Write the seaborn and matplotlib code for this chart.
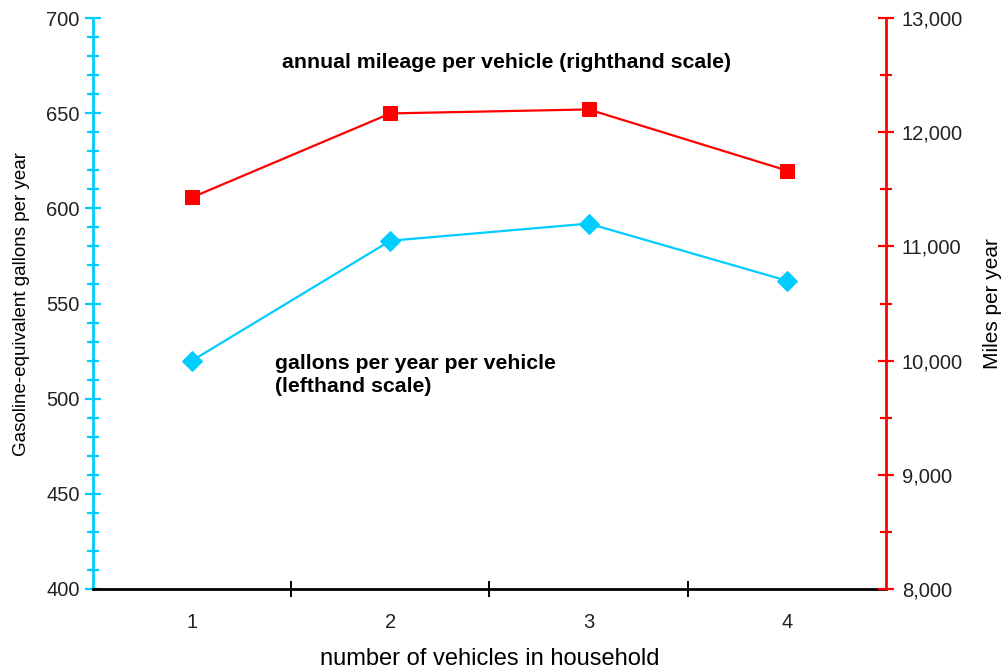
import matplotlib
matplotlib.use("Agg")
import matplotlib.pyplot as plt
import seaborn as sns
import pandas as pd
from matplotlib.ticker import MultipleLocator, FuncFormatter

vehicles = [1, 2, 3, 4]
gallons = [520, 583, 592, 562]
miles = [11430, 12165, 12200, 11665]

sns.set_style("white")
plt.rcParams['font.family'] = ['Liberation Sans', 'DejaVu Sans']
plt.rcParams['text.color'] = 'black'
plt.rcParams['axes.labelcolor'] = 'black'
plt.rcParams['xtick.color'] = 'black'
plt.rcParams['ytick.color'] = 'black'

df = pd.DataFrame({"vehicles": vehicles, "gallons": gallons, "miles": miles})

fig = plt.figure(figsize=(10.01, 6.70), dpi=100)
ax = fig.add_axes([0.0929, 0.121, 0.7922, 0.852])
ax2 = ax.twinx()

blue = "#00CCFF"
red = "#FF0000"

sns.lineplot(data=df, x="vehicles", y="gallons", ax=ax, color=blue, lw=1.6,
             marker="D", markersize=10, markeredgecolor=blue, markerfacecolor=blue)
sns.lineplot(data=df, x="vehicles", y="miles", ax=ax2, color=red, lw=1.6,
             marker="s", markersize=10, markeredgecolor=red, markerfacecolor=red)

ax.set_xlim(0.5, 4.5)
ax.set_ylim(400, 700)
ax2.set_ylim(8000, 13000)

ax.set_xticks([1, 2, 3, 4])
ax.set_xticks([1.5, 2.5, 3.5], minor=True)
ax.tick_params(axis="x", which="major", bottom=True, length=0, labelsize=14.5, pad=17,
               labelcolor="#222222")
ax.tick_params(axis="x", which="minor", bottom=True, length=11, width=1.4,
               direction="inout", color="black")

ax.yaxis.set_major_locator(MultipleLocator(50))
ax.yaxis.set_minor_locator(MultipleLocator(10))
ax.tick_params(axis="y", which="major", left=True, length=11, width=1.6, direction="inout",
               color=blue, labelsize=14.5, pad=4, labelcolor="#222222")
ax.tick_params(axis="y", which="minor", left=True, length=8, width=1.6, direction="inout",
               color=blue)

ax2.yaxis.set_major_locator(MultipleLocator(1000))
ax2.yaxis.set_minor_locator(MultipleLocator(500))
ax2.yaxis.set_major_formatter(FuncFormatter(lambda v, p: f"{int(v):,}"))
ax2.tick_params(axis="y", which="major", right=True, length=11, width=1.6, direction="inout",
                color=red, labelsize=14.5, pad=6, labelcolor="#222222")
ax2.tick_params(axis="y", which="minor", right=True, length=8, width=1.6, direction="inout",
                color=red)

for a in (ax, ax2):
    for s in a.spines.values():
        s.set_visible(False)
ax.spines["left"].set_visible(True)
ax.spines["left"].set_color(blue)
ax.spines["left"].set_linewidth(2)
ax.spines["bottom"].set_visible(True)
ax.spines["bottom"].set_color("black")
ax.spines["bottom"].set_linewidth(2)
ax2.spines["right"].set_visible(True)
ax2.spines["right"].set_color(red)
ax2.spines["right"].set_linewidth(2)

ax.set_xlabel("number of vehicles in household", fontsize=17, labelpad=12)
ax.set_ylabel("Gasoline-equivalent gallons per year", fontsize=13.5, labelpad=12)
ax2.set_ylabel("Miles per year", fontsize=15, labelpad=14)

ax.text(0.522, 0.923, "annual mileage per vehicle (righthand scale)", transform=ax.transAxes,
        ha="center", va="center", fontsize=15.3, fontweight="bold")
ax.text(0.230, 0.375, "gallons per year per vehicle\n(lefthand scale)", transform=ax.transAxes,
        ha="left", va="center", fontsize=15.3, fontweight="bold", linespacing=1.28)

ax.grid(False)
ax2.grid(False)
fig.savefig("out.png", dpi=100)
